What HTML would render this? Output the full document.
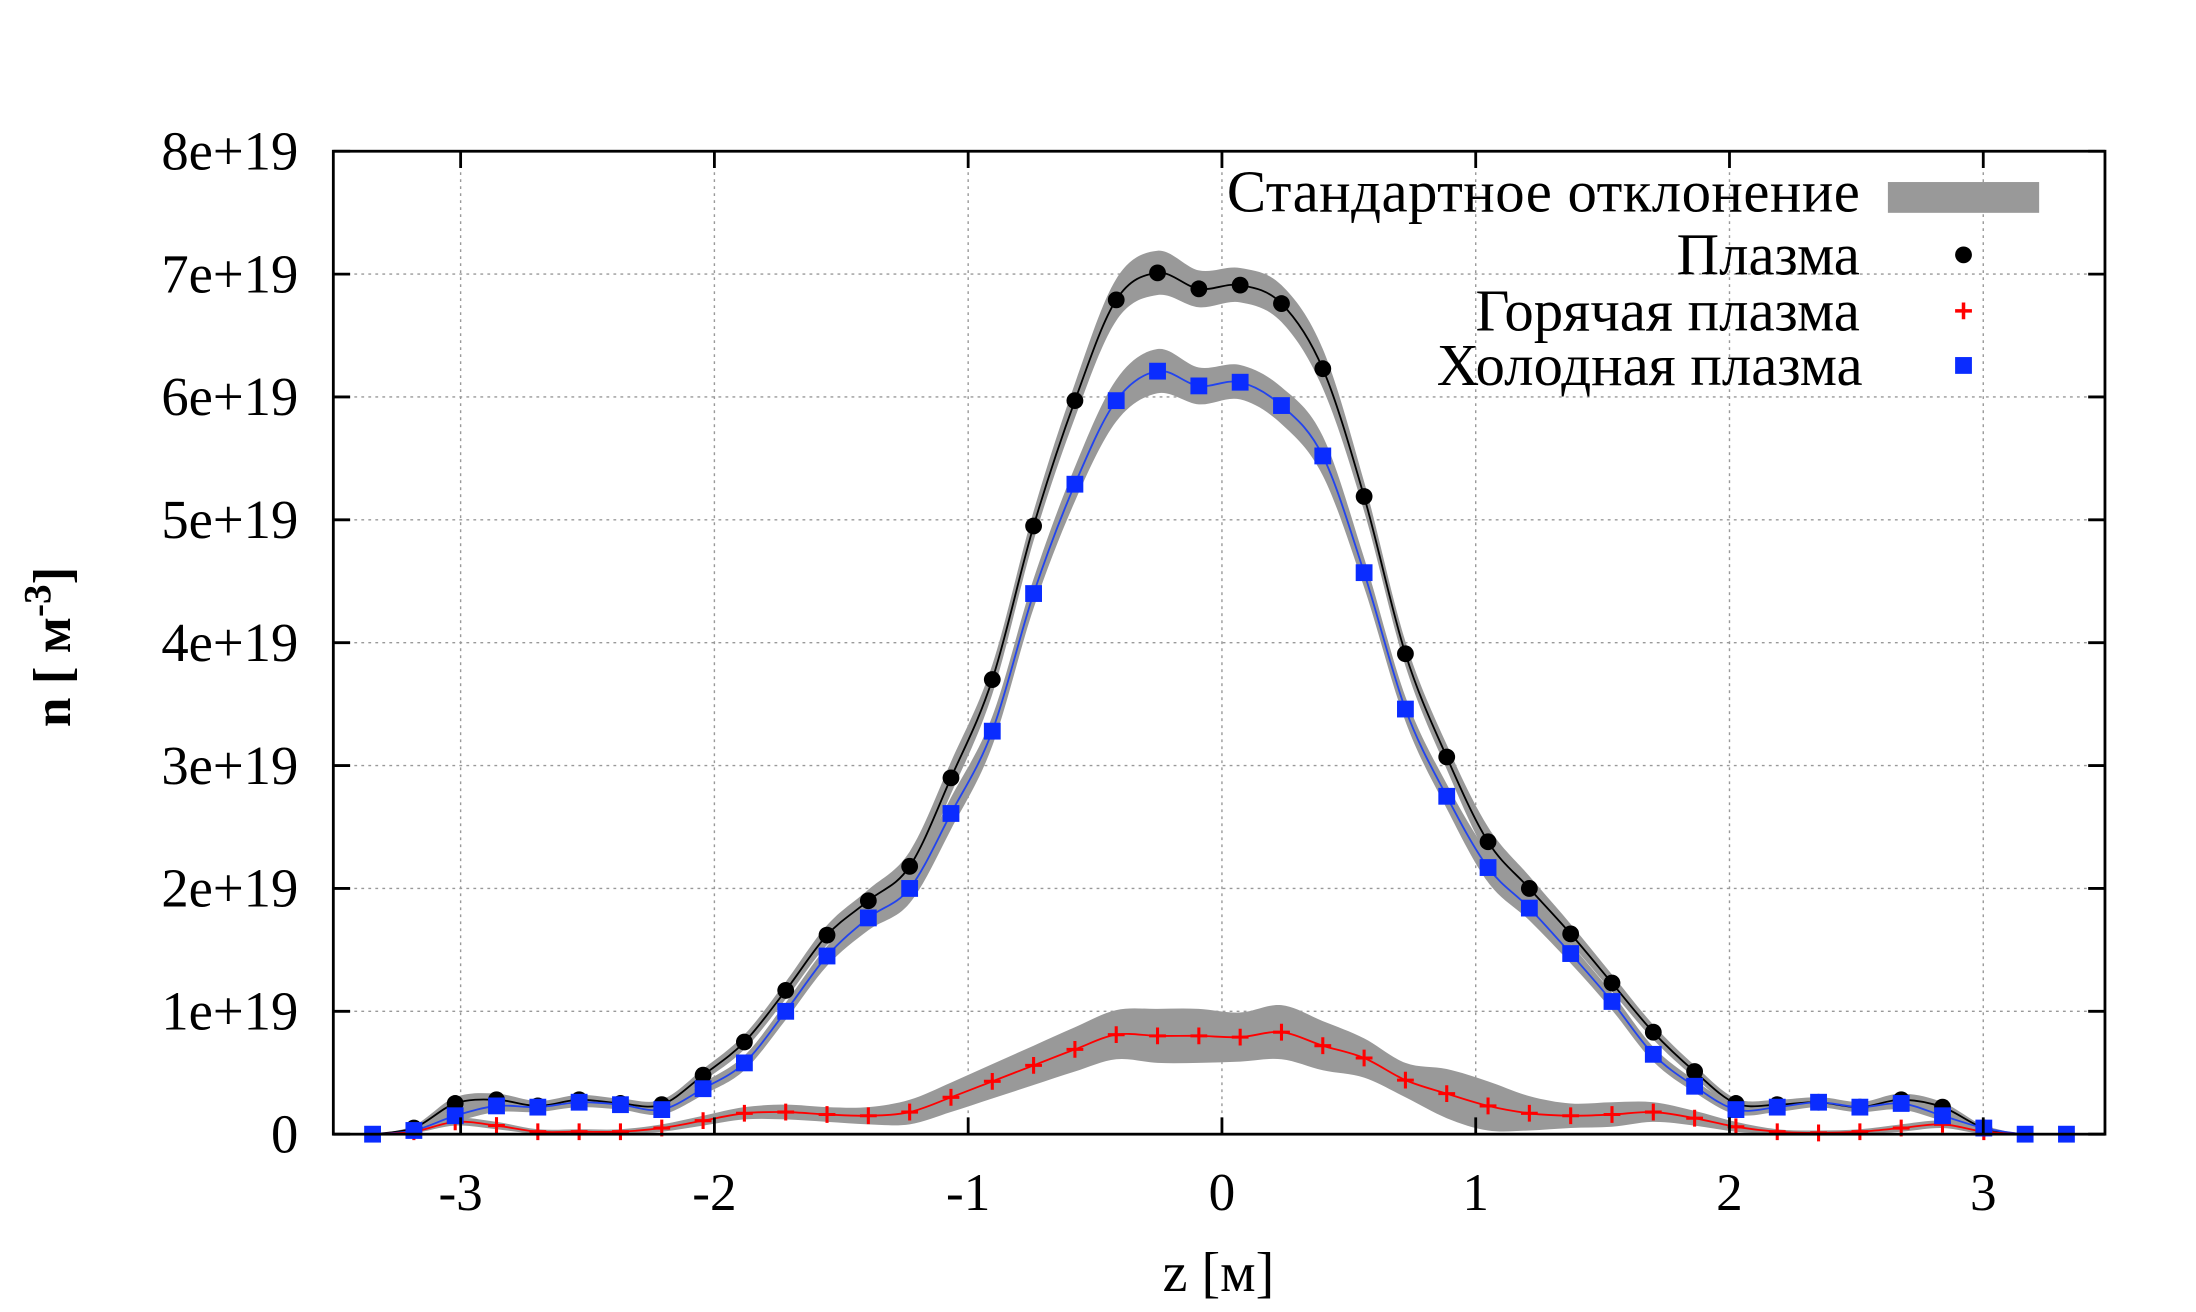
<!DOCTYPE html>
<html><head><meta charset="utf-8"><style>
html,body{margin:0;padding:0;background:#fff;}
svg{display:block;}
text{font-family:"Liberation Serif",serif;fill:#000;}
</style></head><body>
<svg id="chart" width="2196" height="1312" viewBox="0 0 1568 937" preserveAspectRatio="none" xmlns="http://www.w3.org/2000/svg">
<g id="grid"></g>
<g id="bands"></g>
<g id="lines"></g>
<g id="marks"></g>
<rect x="238" y="108" width="1265" height="702" fill="none" stroke="#000" stroke-width="2"/>
<g id="ticks"></g>
<text x="870" y="922" font-size="40" text-anchor="middle">z [м]</text>
<text transform="translate(50,462) rotate(-90)" font-size="38" text-anchor="middle" font-weight="bold">n [ м<tspan dy="-14" font-size="28">-3</tspan><tspan dy="14">]</tspan></text>
<g>
<text x="1328" y="151" font-size="42" text-anchor="end" textLength="452">Стандартное отклонение</text>
<rect x="1348" y="130" width="108" height="22" fill="#999"/>
<text x="1328" y="196" font-size="42" text-anchor="end">Плазма</text>
<circle cx="1402" cy="182" r="6" fill="#000"/>
<text x="1328" y="236" font-size="42" text-anchor="end">Горячая плазма</text>
<path d="M1396 222h12M1402 216v12" stroke="#f00" stroke-width="2.5"/>
<text x="1330" y="275" font-size="42" text-anchor="end">Холодная плазма</text>
<rect x="1396" y="255" width="12" height="12" fill="#0a2cff"/>
</g>
</svg>
<script>
const zStart = -3.347, zStep = 0.1628;
const plasma = [0,0.05,0.25,0.28,0.23,0.28,0.25,0.24,0.48,0.75,1.17,1.62,1.90,2.18,2.90,3.70,4.95,5.97,6.79,7.01,6.88,6.91,6.76,6.23,5.19,3.91,3.07,2.38,2.00,1.63,1.23,0.83,0.51,0.25,0.24,0.26,0.22,0.28,0.22,0.05,0,0];
const cold = [0,0.03,0.15,0.23,0.22,0.26,0.24,0.20,0.37,0.58,1.00,1.45,1.76,2.00,2.61,3.28,4.40,5.29,5.97,6.21,6.09,6.12,5.93,5.52,4.57,3.46,2.75,2.17,1.84,1.47,1.08,0.65,0.39,0.20,0.22,0.26,0.22,0.25,0.15,0.05,0,0];
const hot = [0,0.02,0.10,0.07,0.02,0.02,0.02,0.05,0.11,0.17,0.18,0.16,0.15,0.18,0.30,0.43,0.56,0.69,0.81,0.80,0.80,0.79,0.83,0.72,0.62,0.44,0.33,0.23,0.17,0.15,0.16,0.18,0.13,0.06,0.02,0.01,0.02,0.05,0.08,0.02,0,0];
const plasmaSd = [0,0.02,0.05,0.05,0.04,0.04,0.04,0.04,0.05,0.06,0.07,0.08,0.09,0.12,0.13,0.12,0.12,0.14,0.17,0.18,0.15,0.14,0.15,0.16,0.12,0.1,0.1,0.12,0.1,0.08,0.07,0.06,0.05,0.04,0.04,0.04,0.04,0.05,0.04,0.02,0,0];
const coldSd = [0,0.02,0.05,0.05,0.04,0.04,0.04,0.04,0.05,0.06,0.07,0.08,0.1,0.12,0.13,0.12,0.12,0.14,0.17,0.18,0.15,0.14,0.15,0.16,0.12,0.1,0.1,0.12,0.1,0.08,0.07,0.06,0.05,0.04,0.04,0.04,0.04,0.05,0.04,0.02,0,0];
const hotSd = [0,0.01,0.03,0.03,0.02,0.02,0.02,0.03,0.04,0.05,0.06,0.06,0.07,0.1,0.12,0.14,0.16,0.18,0.2,0.22,0.22,0.2,0.22,0.2,0.16,0.14,0.2,0.2,0.14,0.1,0.1,0.08,0.06,0.04,0.02,0.02,0.02,0.03,0.03,0.02,0,0];
const xTicks = [-3,-2,-1,0,1,2,3];
const yTicks = [0,1,2,3,4,5,6,7,8];
const yTickLabels = ["0","1e+19","2e+19","3e+19","4e+19","5e+19","6e+19","7e+19","8e+19"];

const X0=238,X1=1503,Y0=810,Y1=108;
function xs(z){return 872.5+z*181.2;}
function ys(v){return Y0-v*87.75;}
const NS="http://www.w3.org/2000/svg";
function mk(tag,attrs,parent){const e=document.createElementNS(NS,tag);for(const k in attrs)e.setAttribute(k,attrs[k]);parent.appendChild(e);return e;}
const grid=document.getElementById('grid'),ticks=document.getElementById('ticks');
xTicks.forEach(t=>{const x=xs(t);
 let g=mk('line',{x1:x,x2:x,y1:Y1,y2:Y0,stroke:'#999','stroke-width':1,'stroke-dasharray':'2,3'},grid);
 
 
 let a=mk('path',{d:`M${x} ${Y0}v-12M${x} ${Y1}v12`,stroke:'#000','stroke-width':2},ticks);
 
 
 let l=mk('text',{x:x,y:864,'font-size':38,'text-anchor':'middle'},ticks);l.textContent=String(t);
 
 
});
yTicks.forEach((t,i)=>{const y=ys(t);
 if(t>0&&t<8){let g=mk('line',{x1:X0,x2:X1,y1:y,y2:y,stroke:'#999','stroke-width':1,'stroke-dasharray':'2,3'},grid);
 
 }
 let a=mk('path',{d:`M${X0} ${y}h12M${X1} ${y}h-12`,stroke:'#000','stroke-width':2},ticks);
 
 
 let l=mk('text',{x:213,y:y+13,'font-size':39,'text-anchor':'end'},ticks);l.textContent=yTickLabels[i];
 
 
});
function pts(vals,off,sign){return vals.map((v,i)=>[xs(zStart+i*zStep),ys(Math.max(0,v+(off?sign*off[i]:0)))]);}
function smooth(p){let d=`M${p[0][0]} ${p[0][1]}`;for(let i=0;i<p.length-1;i++){const p0=p[i-1]||p[i],p1=p[i],p2=p[i+1],p3=p[i+2]||p2;
 const c1=[p1[0]+(p2[0]-p0[0])/6,p1[1]+(p2[1]-p0[1])/6],c2=[p2[0]-(p3[0]-p1[0])/6,p2[1]-(p3[1]-p1[1])/6];
 d+=`C${c1[0]} ${c1[1]} ${c2[0]} ${c2[1]} ${p2[0]} ${p2[1]}`;}return d;}
const bands=document.getElementById('bands'),lines=document.getElementById('lines'),marks=document.getElementById('marks');
[[plasma,plasmaSd,'plasma'],[cold,coldSd,'cold'],[hot,hotSd,'hot']].forEach(([v,sd,n])=>{
 const up=pts(v,sd,1),dn=pts(v,sd,-1).reverse();
 const d=smooth(up)+smooth(dn).replace('M','L')+'Z';
 const b=mk('path',{d:d,fill:'#999',stroke:'none'},bands);
 
 
});
[[plasma,'#000','plasma'],[cold,'#2244ee','cold'],[hot,'#f00','hot']].forEach(([v,c,n])=>{
 const l=mk('path',{d:smooth(pts(v)),fill:'none',stroke:c,'stroke-width':1.3},lines);
 
 
});
hot.forEach((v,i)=>{if(i===0||i>=40)return;const x=xs(zStart+i*zStep),y=ys(v);
 const m=mk('path',{d:`M${x-6} ${y}h12M${x} ${y-6}v12`,stroke:'#f00','stroke-width':2.2},marks);
 
 });
plasma.forEach((v,i)=>{if(i===0||i>=40)return;const m=mk('circle',{cx:xs(zStart+i*zStep),cy:ys(v),r:6,fill:'#000'},marks);
 
 });
cold.forEach((v,i)=>{const m=mk('rect',{x:xs(zStart+i*zStep)-6,y:ys(v)-6,width:12,height:12,fill:'#0a2cff'},marks);
 
 });
</script>
</body></html>
